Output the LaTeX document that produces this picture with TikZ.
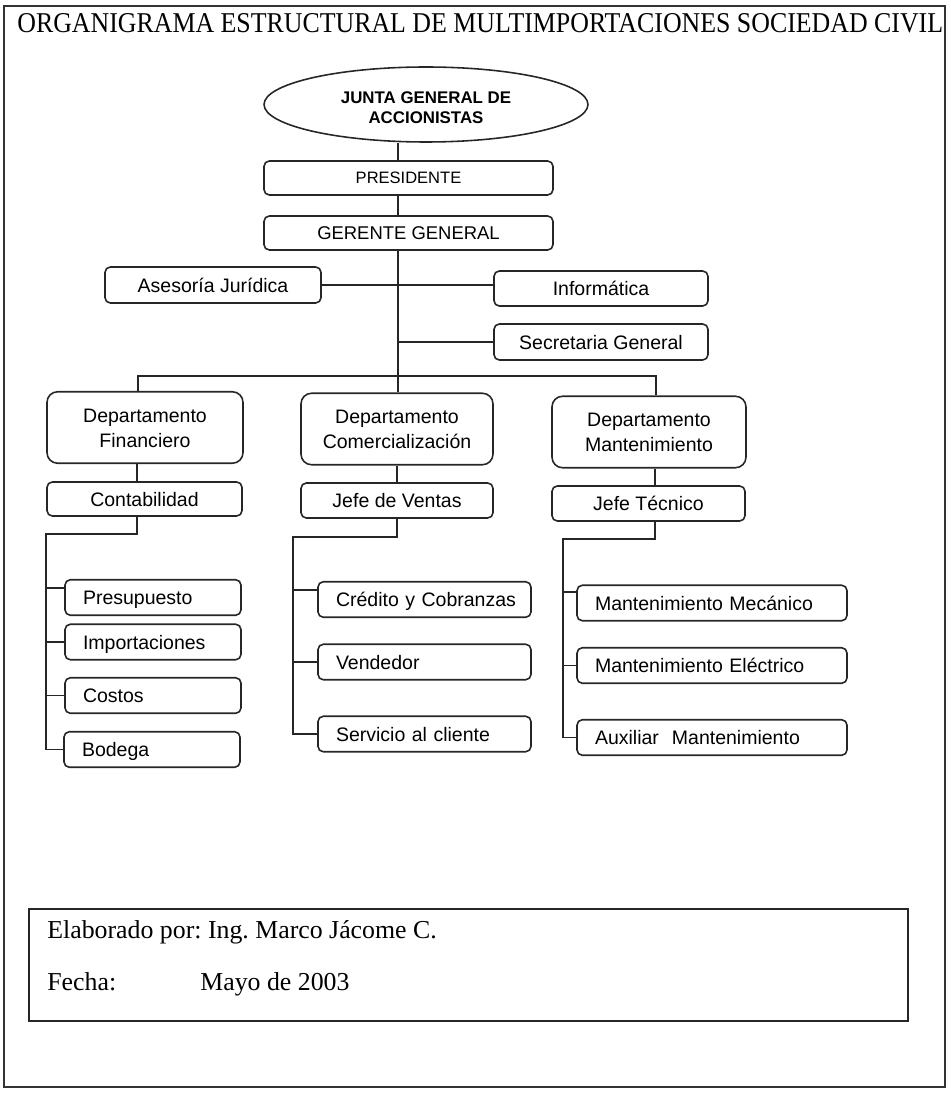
\documentclass[tikz,border=0pt]{standalone}
\usepackage{graphicx}
\usepackage{fontspec}
\setmainfont{Liberation Serif}
\newfontfamily\arial{Liberation Sans}
\usetikzlibrary{shapes.geometric}
\frenchspacing

\begin{document}
\begin{tikzpicture}[x=0.02cm,y=-0.02cm,
  ln/.style={line width=0.9pt, draw=black!85},
  box/.style={draw=black!85, line width=0.9pt, rounded corners=3pt, inner sep=0pt,
    font=\arial\fontsize{11.1}{14.2}\selectfont, text height=8pt, text depth=0pt},
  dept/.style={box, rounded corners=6pt, minimum height=1.43cm, align=center, text height=22.2pt},
  leaf/.style={box, inner xsep=0.36cm, align=left, minimum height=0.71cm, text width=#1},
]
\useasboundingbox (0,0) rectangle (950,1094);

% outer frame and title
\draw[line width=0.6pt, draw=black!80] (4,6) rectangle (945,1087);
\node[anchor=base west, inner sep=0pt] (title) at (17,33)
  {\resizebox{18.52cm}{0.38cm}{ORGANIGRAMA ESTRUCTURAL DE MULTIMPORTACIONES SOCIEDAD CIVIL}};

% top of the hierarchy
\node[draw=black!85, line width=0.9pt, ellipse, minimum width=6.48cm, minimum height=1.5cm, inner sep=0pt,
  font=\arial\bfseries\fontsize{9.6}{11.3}\selectfont, align=center, text height=22pt, text depth=0pt]
  (jga) at (426,104.5) {JUNTA GENERAL DE\\ACCIONISTAS};
\node[box, minimum width=5.78cm, minimum height=0.68cm, font=\arial\fontsize{9.4}{11}\selectfont, text height=6.8pt]
  (pres) at (408.5,178) {PRESIDENTE};
\node[box, minimum width=5.78cm, minimum height=0.68cm, font=\arial\fontsize{10.5}{12}\selectfont, text height=7.5pt]
  (ger) at (408.5,233) {GERENTE GENERAL};

% staff units
\node[box, minimum width=4.32cm, minimum height=0.72cm] (ases) at (213,285) {Asesoría Jurídica};
\node[box, minimum width=4.28cm, minimum height=0.70cm] (info) at (601,288.5) {Informática};
\node[box, minimum width=4.28cm, minimum height=0.72cm] (secr) at (601,342) {Secretaria General};

% departments
\node[dept, minimum width=3.92cm] (dfin) at (145,427.5) {Departamento\\Financiero};
\node[dept, minimum width=3.84cm] (dcom) at (397,429) {Departamento\\Comercialización};
\node[dept, minimum width=3.88cm] (dman) at (649,432) {Departamento\\Mantenimiento};

% heads of department
\node[box, minimum width=3.90cm, minimum height=0.68cm] (cont) at (144.5,499) {Contabilidad};
\node[box, minimum width=3.84cm, minimum height=0.70cm] (jven) at (397,500.5) {Jefe de Ventas};
\node[box, minimum width=3.86cm, minimum height=0.70cm] (jtec) at (648.5,503.5) {Jefe Técnico};

% units under Contabilidad
\node[leaf=2.80cm] (presu) at (153,597.5) {Presupuesto};
\node[leaf=2.80cm] (impo) at (153,642) {Importaciones};
\node[leaf=2.80cm] (cost) at (153,695.5) {Costos};
\node[leaf=2.80cm] (bode) at (152,749.5) {Bodega};

% units under Jefe de Ventas
\node[leaf=3.54cm] (cred) at (424.5,599.5) {\mbox{Crédito y Cobranzas}};
\node[leaf=3.54cm] (vend) at (424.5,662) {Vendedor};
\node[leaf=3.54cm] (serv) at (424.5,734) {\mbox{Servicio al cliente}};

% units under Jefe Técnico
\node[leaf=4.68cm] (mec) at (712,603) {\mbox{Mantenimiento Mecánico}};
\node[leaf=4.68cm] (ele) at (712,665.5) {\mbox{Mantenimiento Eléctrico}};
\node[leaf=4.68cm] (aux) at (712,737.5) {\mbox{Auxiliar\ \ Mantenimiento}};

% main spine
\coordinate (spine) at (398,0);
\draw[ln] (jga.south -| spine) -- (pres.north -| spine);
\draw[ln] (pres.south -| spine) -- (ger.north -| spine);
\draw[ln] (ger.south -| spine) -- (dcom.north -| spine);
\draw[ln] (ases.east) -- (ases.east -| info.west);
\draw[ln] (secr.west -| spine) -- (secr.west);

% bus to the departments
\coordinate (busL) at (138,376);
\coordinate (busR) at (656,376);
\draw[ln] (dfin.north -| busL) -- (busL) -- (busR) -- (dman.north -| busR);

% department to head
\coordinate (c1) at (137,0);
\coordinate (c2) at (397,0);
\coordinate (c3) at (655,0);
\draw[ln] (dfin.south -| c1) -- (cont.north -| c1);
\draw[ln] (dcom.south -| c2) -- (jven.north -| c2);
\draw[ln] (dman.south -| c3) -- (jtec.north -| c3);

% Contabilidad branch
\coordinate (lt) at (137,534);
\coordinate (ls) at (46,534);
\draw[ln] (cont.south -| lt) -- (lt) -- (ls) |- (bode.west);
\coordinate (pb) at ([yshift=0.19cm]presu.west);
\draw[ln] (pb -| ls) -- (pb);
\draw[ln] (impo.west -| ls) -- (impo.west);
\draw[ln] (cost.west -| ls) -- (cost.west);

% Jefe de Ventas branch
\coordinate (mt) at (397,537);
\coordinate (ms) at (293,537);
\draw[ln] (jven.south -| mt) -- (mt) -- (ms) |- (serv.west);
\coordinate (cb) at ([yshift=0.19cm]cred.west);
\draw[ln] (cb -| ms) -- (cb);
\draw[ln] (vend.west -| ms) -- (vend.west);

% Jefe Técnico branch
\coordinate (rt) at (655,539);
\coordinate (rs) at (563,539);
\draw[ln] (jtec.south -| rt) -- (rt) -- (rs) |- (aux.west);
\coordinate (mb) at ([yshift=0.22cm]mec.west);
\draw[ln] (mb -| rs) -- (mb);
\draw[ln] (ele.west -| rs) -- (ele.west);

% authorship box
\node[draw=black!85, line width=0.9pt, minimum width=17.58cm, minimum height=2.24cm, inner sep=0pt]
  (foot) at (468.5,965) {};
\node[anchor=base west, inner sep=0pt, font=\fontsize{14.7}{17}\selectfont] (autor) at (47,938)
  {Elaborado por: Ing. Marco Jácome C.};
\node[anchor=base west, inner sep=0pt, font=\fontsize{14.7}{17}\selectfont] (fecha) at (47,990) {Fecha:};
\node[anchor=base west, inner sep=0pt, font=\fontsize{14.7}{17}\selectfont] (mayo) at (200,990) {Mayo de 2003};
\end{tikzpicture}
\end{document}
